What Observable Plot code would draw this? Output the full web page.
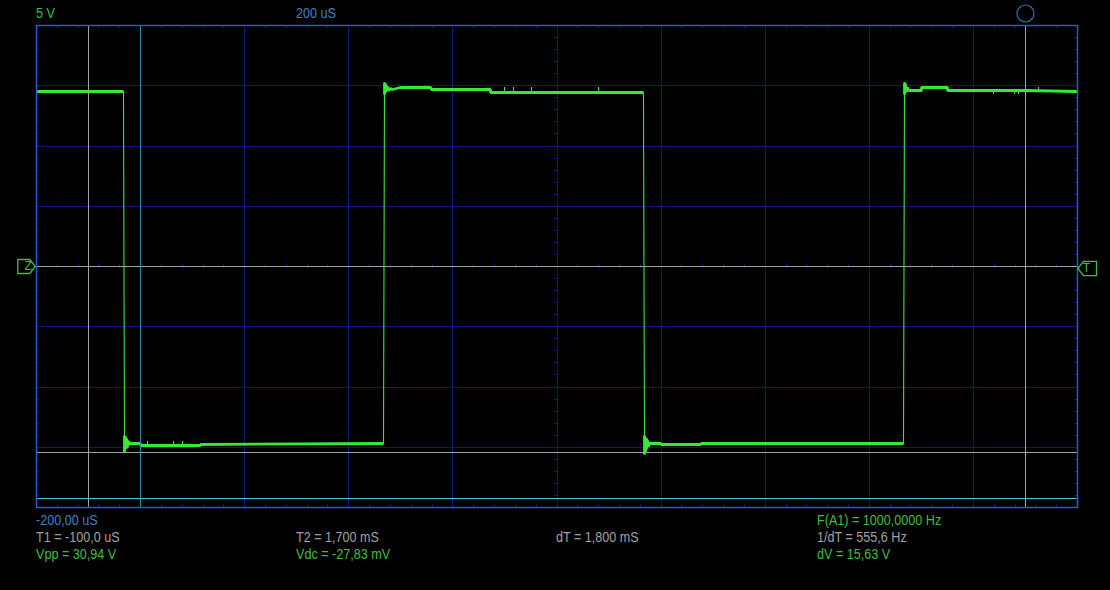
<!DOCTYPE html>
<html><head><meta charset="utf-8">
<script src="https://cdn.jsdelivr.net/npm/d3@7"></script>
<script src="https://cdn.jsdelivr.net/npm/@observablehq/plot@0.6"></script>
<style>
html,body{margin:0;padding:0;background:#000;}
#wrap{position:relative;width:1110px;height:590px;background:#000;overflow:hidden;}
#wrap svg{position:absolute;left:0;top:0;}
.lbl{position:absolute;font-family:"Liberation Sans",Arial,sans-serif;font-size:12.6px;line-height:14px;white-space:nowrap;transform:scaleY(1.12);transform-origin:0 0;}
</style></head><body><div id="wrap"></div>
<script>
// ---- scope settings ----
const timeDomain = [-200, 1800];   // µs, 200 µs/div, 10 divisions
const voltDomain = [-20, 20];      // V, 5 V/div, 8 divisions
const timeCursors = [-100, 1700];  // T1, T2 (µs)
const triggerTime = [0];
const voltCursors = [0, -15.45];
const refLevel = [-19.25];
const triggerLevel = -0.18;

// ---- trace segments [time µs, volts] ----
const high1 = [[-200,14.51],[-100,14.52],[-32.4,14.51]];
const low1 = [[-31.6,-15.41],[-30.8,-14.0],[-30.0,-15.3],[-29.0,-14.1],[-28.0,-15.1],[-27.1,-14.3],[-26.1,-15.0],[-25.2,-14.45],[-24.2,-14.85],[-23.0,-14.55],[-21.3,-14.7],[-19,-14.73],[-1,-14.73],[0,-14.85],[115,-14.85],[116,-14.76],[466.6,-14.73]];
const high2 = [[467.8,15.27],[468.6,14.3],[469.6,15.15],[470.5,14.4],[471.5,15.0],[472.4,14.5],[474.3,14.9],[476.3,14.6],[480,14.75],[484,14.65],[499,14.83],[557,14.83],[558,14.71],[672,14.71],[673,14.48],[966.5,14.48]];
const low2 = [[967.6,-15.6],[968.4,-14.0],[969.4,-15.4],[970.3,-14.15],[971.3,-15.2],[972.2,-14.3],[973.2,-15.05],[974.2,-14.45],[976,-14.9],[978,-14.6],[980,-14.71],[999,-14.71],[1000,-14.81],[1076,-14.81],[1077,-14.71],[1465.6,-14.71]];
const high3 = [[1466.8,15.27],[1467.6,14.3],[1468.6,15.15],[1469.5,14.45],[1470.5,15.0],[1471.5,14.55],[1473.5,14.85],[1476,14.6],[1500,14.6],[1501,14.83],[1550,14.83],[1551,14.62],[1700,14.58],[1800,14.52]];
// short noise glitches [time µs, from V, to V]
const glitches = [[13,-14.85,-14.5],[63,-14.85,-14.55],[81,-14.85,-14.55],[699,14.48,14.85],[716,14.48,14.85],[751,14.48,14.85],[880,14.48,14.85],[1639,14.55,14.3],[1679,14.55,14.3],[1687,14.55,14.3],[1725,14.58,14.85]];

// ---- texts ----
const voltsPerDiv = "5 V";
const timePerDiv = "200 uS";
const startTime = "-200,00 uS";
const t1Text = "T1 = -100,0 uS";
const t2Text = "T2 = 1,700 mS";
const dtText = "dT = 1,800 mS";
const vppText = "Vpp = 30,94 V";
const vdcText = "Vdc = -27,83 mV";
const freqText = "F(A1) = 1000,0000 Hz";
const invDtText = "1/dT = 555,6 Hz";
const dvText = "dV = 15,63 V";

// ---- colours ----
const C = {grid:"#0c177a", frame:"#2f55d2", trace:"#35ea35", gray:"#a2a2a2", teal:"#2b8e9e", cyan:"#42c9e0",
  green:"#3cbf3c", blue:"#3d80c6", circle:"#2f70b4"};

const segments = [high1, low1, high2, low2, high3];
const segRows = segments.flatMap((s, i) => s.map(([t, v]) => ({t, v, seg: i})));
const allRows = segRows.map(d => ({t: d.t, v: d.v}));

const gridT = d3.range(timeDomain[0] + 200, timeDomain[1], 200);
const gridV = d3.range(voltDomain[0] + 5, voltDomain[1], 5);
const minorT = d3.range(timeDomain[0], timeDomain[1] + 1, 40);
const minorV = d3.range(voltDomain[0], voltDomain[1] + 1, 1);
const midT = (timeDomain[0] + timeDomain[1]) / 2;

const zSym = {draw(ctx){ctx.moveTo(-8.7,-7);ctx.lineTo(3.3,-7);ctx.lineTo(8.7,0);ctx.lineTo(3.3,7);ctx.lineTo(-8.7,7);ctx.closePath();}};
const tSym = {draw(ctx){ctx.moveTo(9.3,-7.2);ctx.lineTo(-3.7,-7.2);ctx.lineTo(-9.4,0);ctx.lineTo(-3.7,7.2);ctx.lineTo(9.3,7.2);ctx.closePath();}};

const chart = Plot.plot({
  width: 1110, height: 590,
  marginLeft: 36, marginRight: 33, marginTop: 25, marginBottom: 83,
  x: {domain: timeDomain, axis: null, round: true},
  y: {domain: voltDomain, axis: null, round: true},
  style: {background: "transparent", fontFamily: "'Liberation Sans', Arial, sans-serif"},
  marks: [
    Plot.ruleX(gridT, {stroke: C.grid}),
    Plot.ruleY(gridV, {stroke: C.grid}),
    Plot.ruleX(minorT, {y1: voltDomain[1], y2: voltDomain[1] - 0.25, stroke: C.grid}),
    Plot.ruleX(minorT, {y1: voltDomain[0], y2: voltDomain[0] + 0.25, stroke: C.grid}),
    Plot.ruleX(minorT, {y1: -0.2, y2: 0.2, stroke: C.grid}),
    Plot.ruleY(minorV, {x1: timeDomain[0], x2: timeDomain[0] + 6, stroke: C.grid}),
    Plot.ruleY(minorV, {x1: timeDomain[1] - 6, x2: timeDomain[1], stroke: C.grid}),
    Plot.ruleY(minorV, {x1: midT - 4, x2: midT + 4, stroke: C.grid}),
    Plot.ruleY(voltCursors, {stroke: C.gray}),
    Plot.ruleY(refLevel, {stroke: C.cyan, strokeWidth: 1.2}),
    Plot.line(allRows, {x: "t", y: "v", stroke: C.trace, strokeWidth: 1.1, curve: "linear"}),
    Plot.line(segRows, {x: "t", y: "v", z: "seg", stroke: C.trace, strokeWidth: 2.8, strokeLinejoin: "miter", strokeLinecap: "butt"}),
    Plot.ruleX(glitches, {x: d => d[0], y1: d => d[1], y2: d => d[2], stroke: C.trace, strokeWidth: 1}),
    Plot.ruleX(timeCursors, {stroke: C.gray}),
    Plot.ruleX(triggerTime, {stroke: C.teal}),
    Plot.frame({stroke: C.frame, strokeWidth: 1.5}),
    Plot.dot([{t: timeCursors[1], v: 21}], {x: "t", y: "v", r: 8.5, stroke: C.circle, strokeWidth: 1.2, fill: "none"}),
    Plot.dot([0], {y: d => d, frameAnchor: "left", dx: -10, symbol: zSym, stroke: C.green, strokeWidth: 1.3, fill: "none"}),
    Plot.text(["Z"], {y: () => 0, frameAnchor: "left", dx: -12, text: d => d, fill: C.green, fontSize: 12}),
    Plot.dot([triggerLevel], {y: d => d, frameAnchor: "right", dx: 9.7, symbol: tSym, stroke: C.green, strokeWidth: 1.3, fill: "none"}),
    Plot.text(["T"], {y: () => triggerLevel, frameAnchor: "right", dx: 12.5, text: d => d, fill: C.green, fontSize: 12})
  ]
});
const wrap = document.getElementById("wrap");
wrap.appendChild(chart);

const layout = [
  [voltsPerDiv, C.green, 36, 6], [timePerDiv, C.blue, 296, 6],
  [startTime, C.blue, 36, 513], [t1Text, C.gray, 36, 530], [vppText, C.green, 36, 547],
  [t2Text, C.gray, 296, 530], [vdcText, C.green, 296, 547],
  [dtText, C.gray, 556, 530],
  [freqText, C.green, 817, 513], [invDtText, C.gray, 817, 530], [dvText, C.green, 817, 547]
];
for (const [txt, col, left, top] of layout) {
  const d = document.createElement("div");
  d.className = "lbl";
  d.textContent = txt;
  d.style.color = col; d.style.left = left + "px"; d.style.top = top + "px";
  wrap.appendChild(d);
}
</script></body></html>
